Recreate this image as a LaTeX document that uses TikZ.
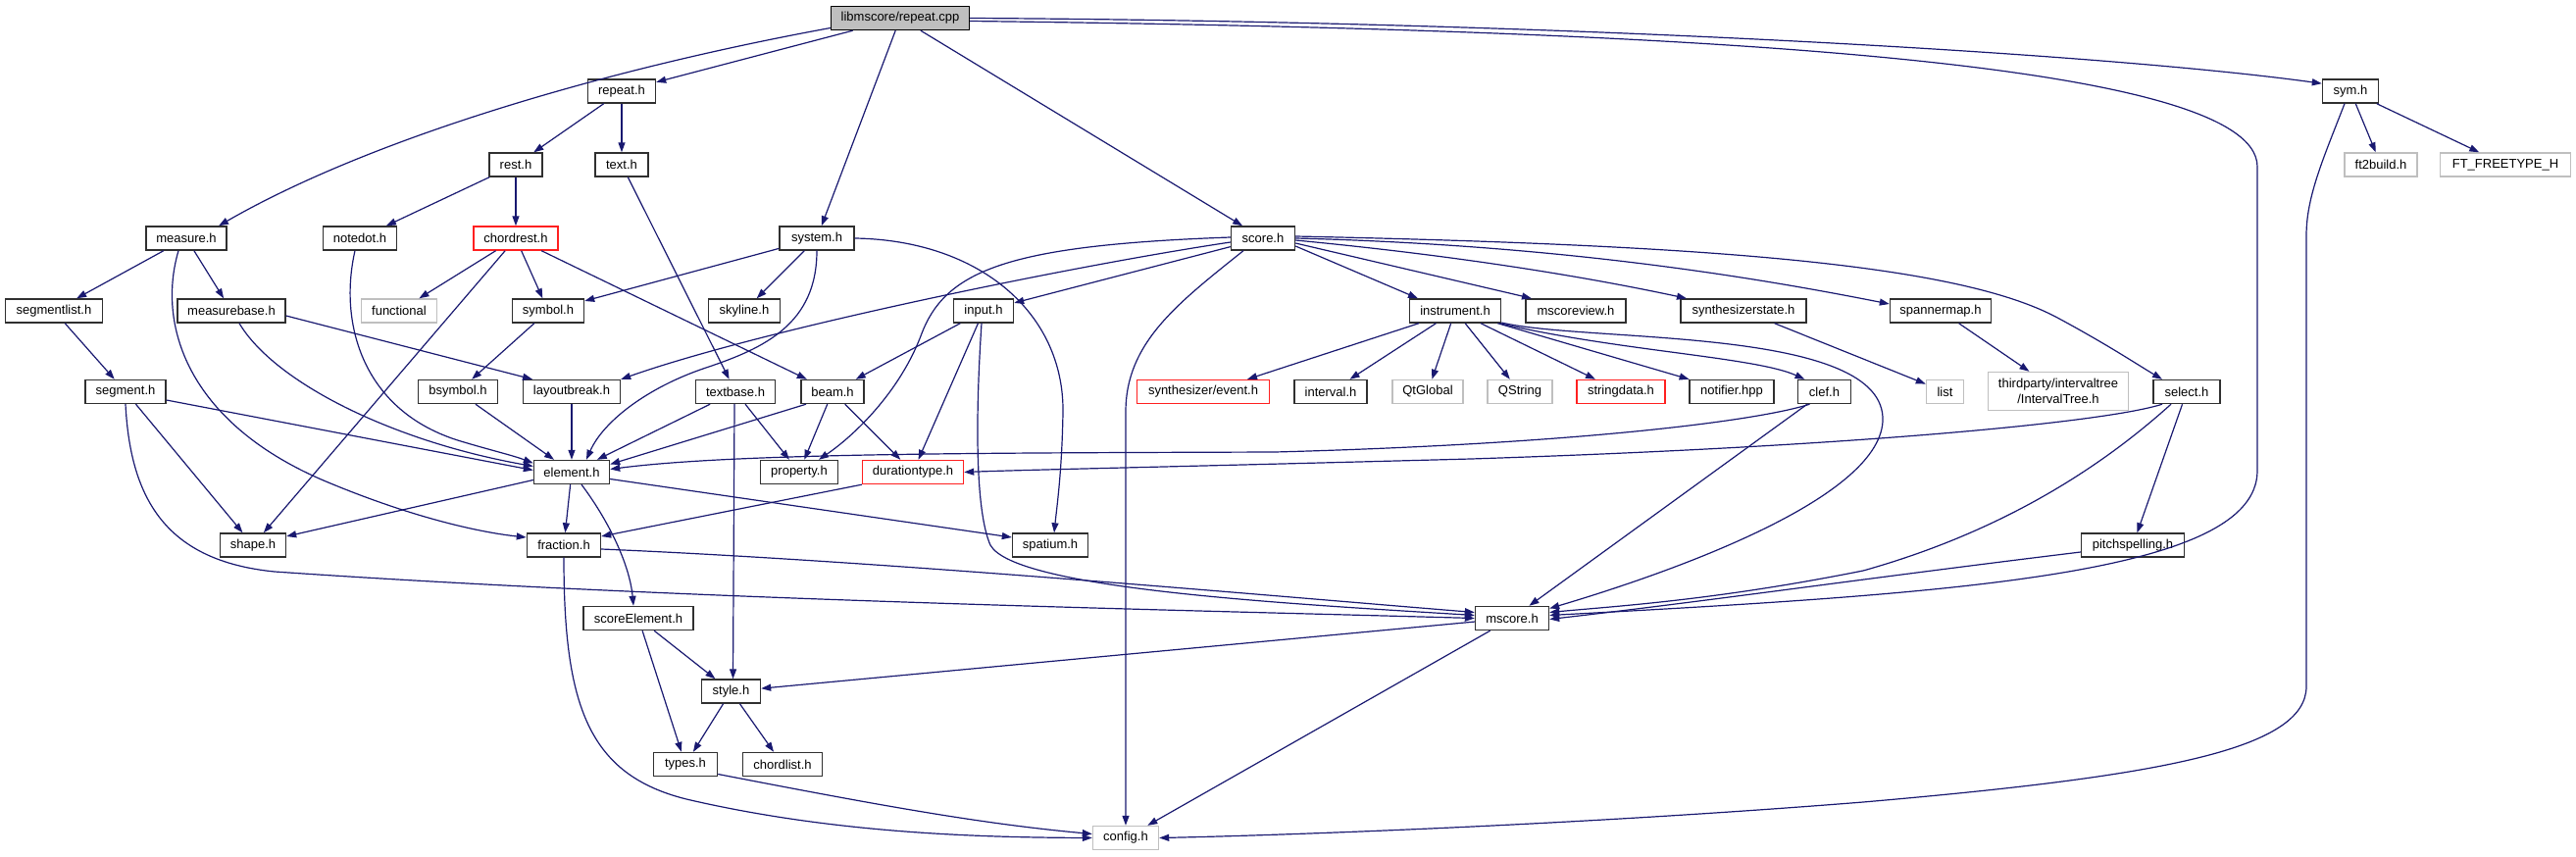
\documentclass[tikz,border=0pt]{standalone}
\usepackage{fontspec}
\setmainfont{Liberation Sans}
\usetikzlibrary{arrows.meta,calc}
\definecolor{edgec}{HTML}{191970}
\definecolor{extc}{HTML}{BFBFBF}
\definecolor{boxc}{HTML}{303030}
\definecolor{redc}{HTML}{FF2020}
\tikzset{
  nd/.style={draw=boxc, line width=1.4pt, fill=white, minimum height=24pt, inner sep=0pt,
    font=\fontsize{13}{15}\selectfont, text=black},
  ext/.style={nd, draw=extc},
  trunc/.style={nd, draw=redc},
  edg/.style={draw=edgec, line width=1.2pt, -{Triangle[length=10pt,width=7pt]}}
}
\begin{document}
\begin{tikzpicture}[x=1pt,y=-1pt]
\useasboundingbox (0,0) rectangle (2627,873);
% nodes
\node[nd, fill=extc, draw=black, minimum width=141pt] (repeatcpp) at (918,18.5) {libmscore/repeat.cpp};
\node[nd, minimum width=69pt] (repeath) at (634,93) {repeat.h};
\node[nd, minimum width=57pt] (symh) at (2397,93) {sym.h};
\node[nd, minimum width=54pt] (resth) at (526,168) {rest.h};
\node[nd, minimum width=54pt] (texth) at (634,168) {text.h};
\node[ext, minimum width=74pt] (ft2buildh) at (2428,168) {ft2build.h};
\node[ext, minimum width=133pt] (fth) at (2555,168) {FT\_FREETYPE\_H};
\node[nd, minimum width=82pt] (measureh) at (190,243) {measure.h};
\node[nd, minimum width=75pt] (notedoth) at (367,243) {notedot.h};
\node[trunc, minimum width=86pt] (chordresth) at (526,243) {chordrest.h};
\node[nd, minimum width=76pt] (systemh) at (833,243) {system.h};
\node[nd, minimum width=65pt] (scoreh) at (1288,243) {score.h};
\node[nd, minimum width=99pt] (segmentlisth) at (55,317) {segmentlist.h};
\node[nd, minimum width=110pt] (measurebaseh) at (236,317) {measurebase.h};
\node[ext, minimum width=77pt] (functional) at (407,317) {functional};
\node[nd, minimum width=73pt] (symbolh) at (559,317) {symbol.h};
\node[nd, minimum width=73pt] (skylineh) at (759,317) {skyline.h};
\node[nd, minimum width=61pt] (inputh) at (1003,317) {input.h};
\node[nd, minimum width=93pt] (instrumenth) at (1484,317) {instrument.h};
\node[nd, minimum width=102pt] (mscoreviewh) at (1607,317) {mscoreview.h};
\node[nd, minimum width=128pt] (synthesizerstateh) at (1778,317) {synthesizerstate.h};
\node[nd, minimum width=103pt] (spannermaph) at (1979,317) {spannermap.h};
\node[nd, minimum width=82pt] (segmenth) at (128,399.5) {segment.h};
\node[nd, minimum width=81pt] (bsymbolh) at (467,399.5) {bsymbol.h};
\node[nd, minimum width=99pt] (layoutbreakh) at (583,399.5) {layoutbreak.h};
\node[nd, minimum width=81pt] (textbaseh) at (750,399.5) {textbase.h};
\node[nd, minimum width=64pt] (beamh) at (849,399.5) {beam.h};
\node[trunc, minimum width=135pt] (syntheventh) at (1227,399.5) {synthesizer/event.h};
\node[nd, minimum width=74pt] (intervalh) at (1357,399.5) {interval.h};
\node[ext, minimum width=72pt] (qtglobal) at (1456,399.5) {QtGlobal};
\node[ext, minimum width=66pt] (qstring) at (1550,399.5) {QString};
\node[trunc, minimum width=90pt] (stringdatah) at (1653,399.5) {stringdata.h};
\node[nd, minimum width=86pt] (notifierhpp) at (1766,399.5) {notifier.hpp};
\node[nd, minimum width=54pt] (clefh) at (1860.5,399.5) {clef.h};
\node[ext, minimum width=38pt] (listh) at (1983.5,399.5) {list};
\node[ext, minimum width=143pt, minimum height=39pt, align=center, font=\fontsize{13}{15.5}\selectfont] (thirdparty) at (2099,399) {thirdparty/intervaltree\\/IntervalTree.h};
\node[nd, minimum width=68pt] (selecth) at (2230,399.5) {select.h};
\node[nd, minimum width=77pt] (elementh) at (583,481.5) {element.h};
\node[nd, minimum width=79pt] (propertyh) at (815,481.5) {property.h};
\node[trunc, minimum width=103pt] (durationtypeh) at (931,481.5) {durationtype.h};
\node[nd, minimum width=67pt] (shapeh) at (258,556) {shape.h};
\node[nd, minimum width=75pt] (fractionh) at (575,556) {fraction.h};
\node[nd, minimum width=77pt] (spatiumh) at (1071,556) {spatium.h};
\node[nd, minimum width=105pt] (pitchspellingh) at (2175,556) {pitchspelling.h};
\node[nd, minimum width=112pt] (scoreElementh) at (651,630.5) {scoreElement.h};
\node[nd, minimum width=75pt] (mscoreh) at (1542,630.5) {mscore.h};
\node[nd, minimum width=60pt] (styleh) at (745.5,705) {style.h};
\node[nd, minimum width=65pt] (typesh) at (699,779.5) {types.h};
\node[nd, minimum width=81pt] (chordlisth) at (798,779.5) {chordlist.h};
\node[ext, minimum width=67pt] (configh) at (1148,854.5) {config.h};

% edges from repeat.cpp
\draw[edg] (repeatcpp.188) .. controls (620,70) and (380,140) .. ([xshift=33pt]measureh.north);
\draw[edg] (repeatcpp) -- (repeath);
\draw[edg] (repeatcpp) -- (systemh);
\draw[edg] (repeatcpp) -- (scoreh);
\draw[edg] (repeatcpp.east) .. controls (1600,22) and (2150,55) .. (symh.165);
\draw[edg] ([yshift=-3pt]repeatcpp.east) .. controls (1700,30) and (2302,60) .. (2302,170) -- (2302,480) .. controls (2302,585) and (2000,605) .. ([yshift=3pt]mscoreh.east);
% repeat.h, rest.h, text.h
\draw[edg] (repeath) -- (resth);
\draw[edg] (repeath) -- (texth);
\draw[edg] (resth) -- (notedoth);
\draw[edg] (resth) -- (chordresth);
\draw[edg] (texth) -- (textbaseh);
% measure.h
\draw[edg] (measureh) -- (segmentlisth);
\draw[edg] (measureh) -- (measurebaseh);
\draw[edg] ([xshift=-8pt]measureh.south) .. controls (160,330) and (190,430) .. (330,490) .. controls (420,528) and (490,543) .. ([yshift=8pt]fractionh.west);
% notedot.h
\draw[edg] ([xshift=-5pt]notedoth.south) .. controls (345,330) and (370,420) .. (470,450) .. controls (500,459) and (525,465) .. ([yshift=9pt]elementh.west);
% chordrest.h
\draw[edg] (chordresth) -- (functional);
\draw[edg] (chordresth) -- (shapeh);
\draw[edg] (chordresth) -- (symbolh);
\draw[edg] (chordresth) -- (beamh);
% system.h
\draw[edg] (systemh) -- (symbolh);
\draw[edg] (systemh) -- (skylineh);
\draw[edg] (systemh.south) .. controls (833,330) and (780,355) .. (720,375) .. controls (660,395) and (615,430) .. ([xshift=15pt]elementh.north);
\draw[edg] (systemh.east) .. controls (1000,245) and (1085,320) .. (1084,420) .. controls (1083,480) and (1078,515) .. ([xshift=4pt]spatiumh.north);
% score.h
\draw[edg] ([yshift=-4pt]scoreh.west) .. controls (1100,270) and (780,335) .. (layoutbreakh.north east);
\draw[edg] ([yshift=1pt]scoreh.west) .. controls (1030,250) and (965,275) .. (940,340) .. controls (918,400) and (870,445) .. ([xshift=20pt]propertyh.north);
\draw[edg] (scoreh) -- (inputh);
\draw[edg] ([xshift=-20pt]scoreh.south) .. controls (1200,310) and (1148,350) .. (1148,420) -- (configh.north);
\draw[edg] ([yshift=-8pt]scoreh.east) -- ([xshift=-38pt]instrumenth.north);
\draw[edg] ([yshift=-5pt]scoreh.east) -- ([xshift=-45pt]mscoreviewh.north);
\draw[edg] ([yshift=-2pt]scoreh.east) .. controls (1500,262) and (1630,285) .. ([xshift=-58pt]synthesizerstateh.north);
\draw[edg] (scoreh.east) .. controls (1600,250) and (1800,285) .. ([yshift=7pt]spannermaph.west);
\draw[edg] ([yshift=2pt]scoreh.east) .. controls (1750,250) and (2000,270) .. (2100,325) .. controls (2150,352) and (2180,372) .. ([xshift=-25pt]selecth.north);
% sym.h
\draw[edg] (symh) -- (ft2buildh);
\draw[edg] (symh) -- (fth);
\draw[edg] ([xshift=-6pt]symh.south) .. controls (2370,160) and (2352,200) .. (2352,240) -- (2352,700) .. controls (2352,765) and (2200,792) .. (1900,818) .. controls (1600,842) and (1300,852) .. (configh.east);
% segmentlist, measurebase, segment
\draw[edg] (segmentlisth) -- (segmenth);
\draw[edg] ([xshift=8pt]measurebaseh.south) .. controls (280,390) and (400,450) .. ([yshift=6pt]elementh.west);
\draw[edg] ([yshift=-5pt]measurebaseh.east) -- ([xshift=-40pt]layoutbreakh.north);
\draw[edg] ([yshift=-8.5pt]segmenth.east) -- ([yshift=2pt]elementh.west);
\draw[edg] (segmenth) -- (shapeh);
\draw[edg] (segmenth.south) .. controls (133,510) and (170,572) .. (280,583) .. controls (700,612) and (1200,622) .. (mscoreh.west);
% symbol, bsymbol, layoutbreak
\draw[edg] (symbolh) -- (bsymbolh);
\draw[edg] (bsymbolh) -- (elementh);
\draw[edg] (layoutbreakh) -- (elementh);
% textbase, beam, input
\draw[edg] (textbaseh) -- (elementh);
\draw[edg] (textbaseh) -- (propertyh);
\draw[edg] ([xshift=-1pt]textbaseh.south) -- ([xshift=2pt]styleh.north);
\draw[edg] ([xshift=-27pt]beamh.south) -- ([yshift=8pt]elementh.east);
\draw[edg] (beamh) -- (propertyh);
\draw[edg] (beamh) -- (durationtypeh);
\draw[edg] (inputh) -- (beamh);
\draw[edg] (inputh) -- (durationtypeh);
\draw[edg] ([xshift=-2pt]inputh.south) .. controls (995,420) and (994,520) .. (1010,556) .. controls (1035,600) and (1300,615) .. ([yshift=3pt]mscoreh.west);
% instrument.h
\draw[edg] ([xshift=-37pt]instrumenth.south) -- ([xshift=45pt]syntheventh.north);
\draw[edg] (instrumenth) -- (intervalh);
\draw[edg] (instrumenth) -- (qtglobal);
\draw[edg] (instrumenth) -- (qstring);
\draw[edg] (instrumenth) -- (stringdatah);
\draw[edg] (instrumenth) -- (notifierhpp);
\draw[edg] ([xshift=-2pt]instrumenth.south east) .. controls (1650,358) and (1790,364) .. ([xshift=-20pt]clefh.north);
\draw[edg] ([yshift=-12pt]instrumenth.east) .. controls (1620,350) and (1925,332) .. (1920,430) .. controls (1915,510) and (1700,585) .. ([yshift=10pt]mscoreh.east);
% synthesizerstate, spannermap
\draw[edg] (synthesizerstateh) -- (listh);
\draw[edg] (spannermaph) -- (thirdparty);
% clef.h
\draw[edg] ([xshift=-15pt]clefh.south) .. controls (1790,430) and (1600,453) .. (1300,461) .. controls (1000,462) and (750,462) .. ([yshift=3pt]elementh.east);
\draw[edg] (clefh) -- (mscoreh);
% select.h
\draw[edg] ([xshift=-25pt]selecth.south) .. controls (2150,430) and (1900,455) .. (1500,468) .. controls (1200,476) and (1050,479) .. (durationtypeh.east);
\draw[edg] (selecth) -- (pitchspellingh);
\draw[edg] ([xshift=-16pt]selecth.south) .. controls (2150,470) and (2050,540) .. (1900,582) .. controls (1750,612) and (1650,618) .. ([yshift=6pt]mscoreh.east);
\draw[edg] ([yshift=-7pt]pitchspellingh.west) .. controls (1900,590) and (1750,612) .. ([yshift=-1pt]mscoreh.east);
% element.h
\draw[edg] ([yshift=-8pt]elementh.west) -- ([yshift=9pt]shapeh.east);
\draw[edg] (elementh) -- (fractionh);
\draw[edg] ([xshift=10pt]elementh.south) .. controls (620,530) and (642,575) .. ([xshift=-5pt]scoreElementh.north);
\draw[edg] ([yshift=-7pt]elementh.east) -- ([yshift=8pt]spatiumh.west);
% durationtype, fraction
\draw[edg] (durationtypeh.south west) -- ([yshift=9pt]fractionh.east);
\draw[edg] ([yshift=-4pt]fractionh.east) .. controls (900,572) and (1300,608) .. ([yshift=6pt]mscoreh.west);
\draw[edg] (fractionh.south) .. controls (575,720) and (600,790) .. (700,815) .. controls (850,850) and (1000,854) .. (configh.west);
% scoreElement, style, types
\draw[edg] (scoreElementh) -- (styleh);
\draw[edg] (scoreElementh) -- (typesh);
\draw[edg] (styleh) -- (typesh);
\draw[edg] (styleh) -- (chordlisth);
\draw[edg] ([yshift=-10pt]typesh.east) .. controls (900,822) and (1000,840) .. ([yshift=4pt]configh.west);
% mscore.h
\draw[edg] (mscoreh) -- (styleh);
\draw[edg] (mscoreh) -- (configh);
\end{tikzpicture}
\end{document}
